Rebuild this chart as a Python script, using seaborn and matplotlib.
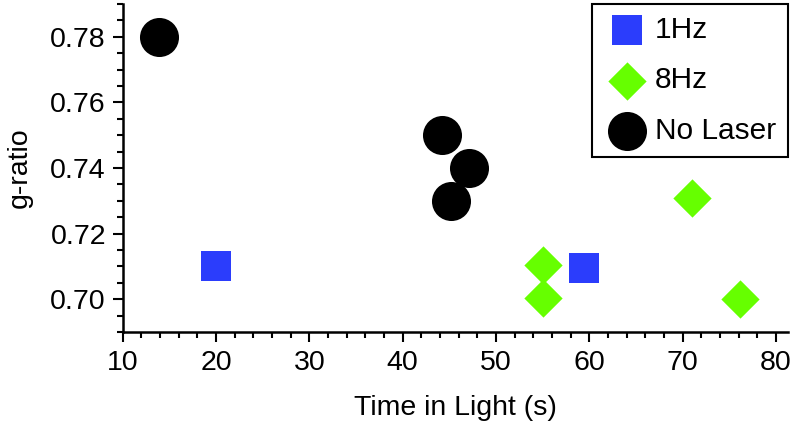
import matplotlib
matplotlib.use("Agg")
import matplotlib.pyplot as plt
import seaborn as sns
import pandas as pd
from matplotlib.ticker import MultipleLocator, FormatStrFormatter

# Data
hz1_time = [20.0, 59.4]
hz1_ratio = [0.710, 0.7095]
hz8_time = [55.0, 55.0, 71.0, 76.2]
hz8_ratio = [0.7105, 0.7005, 0.731, 0.700]
nolaser_time = [13.9, 44.2, 47.1, 45.2]
nolaser_ratio = [0.780, 0.750, 0.740, 0.730]

groups = ["1Hz", "8Hz", "No Laser"]
colors = {"1Hz": "#2b3dfc", "8Hz": "#66ff00", "No Laser": "#000000"}
markers = {"1Hz": "s", "8Hz": "D", "No Laser": "o"}
sizes = {"1Hz": 470, "8Hz": 380, "No Laser": 790}

df = pd.concat([
    pd.DataFrame({"time": hz1_time, "ratio": hz1_ratio, "group": "1Hz"}),
    pd.DataFrame({"time": hz8_time, "ratio": hz8_ratio, "group": "8Hz"}),
    pd.DataFrame({"time": nolaser_time, "ratio": nolaser_ratio, "group": "No Laser"}),
])

sns.set_style("ticks")
plt.rcParams['font.family'] = ['Liberation Sans', 'DejaVu Sans']
plt.rcParams['text.color'] = 'black'
plt.rcParams['axes.labelcolor'] = 'black'
plt.rcParams['xtick.color'] = 'black'
plt.rcParams['ytick.color'] = 'black'

fig = plt.figure(figsize=(7.96, 4.22), dpi=100)
ax = fig.add_axes([0.1541, 0.2133, 0.8359, 0.7772])

for g in groups:
    sub = df[df["group"] == g]
    sns.scatterplot(data=sub, x="time", y="ratio", ax=ax, color=colors[g],
                    marker=markers[g], s=sizes[g], linewidth=0, label=g)

ax.set_xlim(10, 81.3)
ax.set_ylim(0.69, 0.79)
ax.xaxis.set_major_locator(MultipleLocator(10))
ax.xaxis.set_minor_locator(MultipleLocator(2))
ax.yaxis.set_major_locator(MultipleLocator(0.02))
ax.yaxis.set_minor_locator(MultipleLocator(0.005))
ax.yaxis.set_major_formatter(FormatStrFormatter('%.2f'))

ax.tick_params(which='major', length=7, width=1.5, labelsize=20.5,
               color='black', labelcolor='black')
ax.tick_params(which='minor', length=4, width=1.5, color='black')
ax.tick_params(axis='x', which='major', pad=6)
ax.tick_params(axis='y', which='major', pad=5)
for side in ['left', 'bottom']:
    ax.spines[side].set_linewidth(1.8)
    ax.spines[side].set_color('black')
sns.despine(ax=ax)

ax.set_xlabel("Time in Light (s)", fontsize=20.5, labelpad=14, color='black')
ax.set_ylabel("g-ratio", fontsize=20.5, labelpad=13, color='black')

leg = ax.legend(loc='upper right', borderaxespad=0, fontsize=21.5, frameon=True,
                fancybox=False, edgecolor='black', framealpha=1,
                labelspacing=0.75, borderpad=0.4, handlelength=1.5,
                handletextpad=0.2, scatterpoints=1)
leg.get_frame().set_linewidth(1.5)
for t in leg.get_texts():
    t.set_color('black')

fig.savefig("out.png", dpi=100)
